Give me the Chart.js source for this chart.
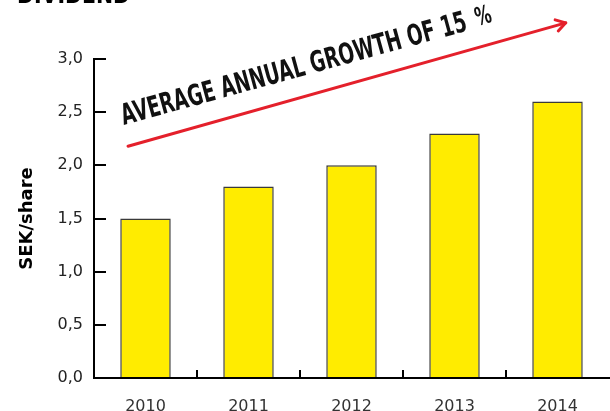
<!DOCTYPE html>
<html>
<head>
<meta charset="utf-8">
<script src="https://cdn.jsdelivr.net/npm/chart.js@4.4.1/dist/chart.umd.min.js"></script>
<style>
  html, body { margin: 0; padding: 0; background: #fff; }
  #wrap { width: 610px; height: 411px; }
</style>
</head>
<body>
<div id="wrap"><canvas id="chart" width="610" height="411"></canvas></div>
<script>
// Data
const years = ['2010', '2011', '2012', '2013', '2014'];
const dividend = [1.5, 1.8, 2.0, 2.3, 2.6];
const yMin = 0;
const yMax = 3.0;
const yStep = 0.5;
const yTitle = 'SEK/share';
const chartTitle = 'DIVIDEND';

// Growth annotation (data coordinates: category index, value)
const growthText = 'AVERAGE ANNUAL GROWTH OF 15';
const growthUnit = '%';
const textFrom = [-0.21, 2.38];
const textTo = [3.136, 3.27];
const arrowFrom = [-0.17, 2.18];
const arrowTo = [4.08, 3.34];

const BAR_COLOR = '#FFEC00';
const RED = '#E4202B';

// Axis lines, ticks pointing into the plot, title and arrow annotation
const decorPlugin = {
    id: 'decor',
    afterDraw(chart) {
        const ctx = chart.ctx;
        const x = chart.scales.x;
        const y = chart.scales.y;
        const axisX = Math.round(x.getPixelForValue(-0.5));
        const axisY = Math.round(y.getPixelForValue(yMin));
        const topY = Math.round(y.getPixelForValue(yMax));

        ctx.save();
        ctx.strokeStyle = '#000';
        ctx.lineWidth = 2;
        ctx.lineCap = 'butt';
        // axis lines
        ctx.beginPath();
        ctx.moveTo(axisX, topY - 1);
        ctx.lineTo(axisX, axisY);
        ctx.lineTo(chart.width, axisY);
        ctx.stroke();
        // y ticks
        for (let v = yMin + yStep; v <= yMax + 1e-9; v += yStep) {
            const py = Math.round(y.getPixelForValue(v));
            ctx.beginPath();
            ctx.moveTo(axisX - 1, py);
            ctx.lineTo(axisX + 12, py);
            ctx.stroke();
        }
        // x ticks between categories
        for (let i = 0; i < years.length - 1; i++) {
            const px = Math.round(x.getPixelForValue(i + 0.5));
            ctx.beginPath();
            ctx.moveTo(px, axisY);
            ctx.lineTo(px, axisY - 8);
            ctx.stroke();
        }

        // cut-off title at the very top
        ctx.fillStyle = '#000';
        ctx.font = 'bold 24px "DejaVu Sans"';
        ctx.textBaseline = 'alphabetic';
        ctx.textAlign = 'left';
        ctx.fillText(chartTitle, 17, 3, 113);

        // arrow
        const ax0 = x.getPixelForValue(arrowFrom[0]), ay0 = y.getPixelForValue(arrowFrom[1]);
        const ax1 = x.getPixelForValue(arrowTo[0]), ay1 = y.getPixelForValue(arrowTo[1]);
        const ang = Math.atan2(ay1 - ay0, ax1 - ax0);
        ctx.strokeStyle = RED;
        ctx.lineWidth = 3;
        ctx.lineCap = 'round';
        ctx.lineJoin = 'round';
        ctx.beginPath();
        ctx.moveTo(ax0, ay0);
        ctx.lineTo(ax1, ay1);
        ctx.stroke();
        ctx.beginPath();
        ctx.moveTo(ax1 + 11 * Math.cos(ang + Math.PI - 0.55), ay1 + 11 * Math.sin(ang + Math.PI - 0.55));
        ctx.lineTo(ax1, ay1);
        ctx.lineTo(ax1 + 11 * Math.cos(ang + Math.PI + 0.55), ay1 + 11 * Math.sin(ang + Math.PI + 0.55));
        ctx.stroke();

        // rotated text, squeezed to fit between textFrom and textTo
        const tx0 = x.getPixelForValue(textFrom[0]), ty0 = y.getPixelForValue(textFrom[1]);
        const tx1 = x.getPixelForValue(textTo[0]), ty1 = y.getPixelForValue(textTo[1]);
        const tang = Math.atan2(ty1 - ty0, tx1 - tx0);
        const len = Math.hypot(tx1 - tx0, ty1 - ty0);
        ctx.translate(tx0, ty0);
        ctx.rotate(tang);
        ctx.fillStyle = '#111';
        ctx.font = 'bold 29px "DejaVu Sans Condensed"';
        const w = ctx.measureText(growthText).width;
        const sx = len / w;
        ctx.save();
        ctx.scale(sx, 1);
        ctx.fillText(growthText, 0, 0);
        ctx.restore();
        ctx.font = 'bold 25px "DejaVu Sans Condensed"';
        ctx.save();
        ctx.translate(len + 10, -2);
        ctx.scale(sx, 1);
        ctx.fillText(growthUnit, 0, 0);
        ctx.restore();
        ctx.restore();
    }
};

new Chart(document.getElementById('chart'), {
    type: 'bar',
    data: {
        labels: years,
        datasets: [{
            data: dividend,
            backgroundColor: BAR_COLOR,
            borderColor: '#3a3a3a',
            borderWidth: 1.5,
            borderSkipped: 'bottom',
            barPercentage: 0.49,
            categoryPercentage: 1.0
        }]
    },
    options: {
        responsive: false,
        animation: false,
        events: [],
        layout: {
            padding: { top: 59, right: 1, left: 0, bottom: 0 }
        },
        plugins: {
            legend: { display: false },
            tooltip: { enabled: false }
        },
        scales: {
            x: {
                grid: { display: false, drawTicks: false },
                border: { display: false },
                ticks: {
                    color: '#333',
                    padding: 19,
                    font: { family: 'DejaVu Sans', size: 16 }
                },
                afterFit(scale) { scale.height = 33; }
            },
            y: {
                min: yMin,
                max: yMax,
                grid: { display: false, drawTicks: false },
                border: { display: false },
                ticks: {
                    stepSize: yStep,
                    color: '#222',
                    padding: 11,
                    font: { family: 'DejaVu Sans', size: 16 },
                    callback: v => v.toFixed(1).replace('.', ',')
                },
                title: {
                    display: true,
                    text: yTitle,
                    color: '#000',
                    padding: { top: 17, bottom: 0 },
                    font: { family: 'DejaVu Sans', size: 18, weight: 'bold' }
                },
                afterFit(scale) { scale.width = 94; }
            }
        }
    },
    plugins: [decorPlugin]
});
</script>
</body>
</html>
